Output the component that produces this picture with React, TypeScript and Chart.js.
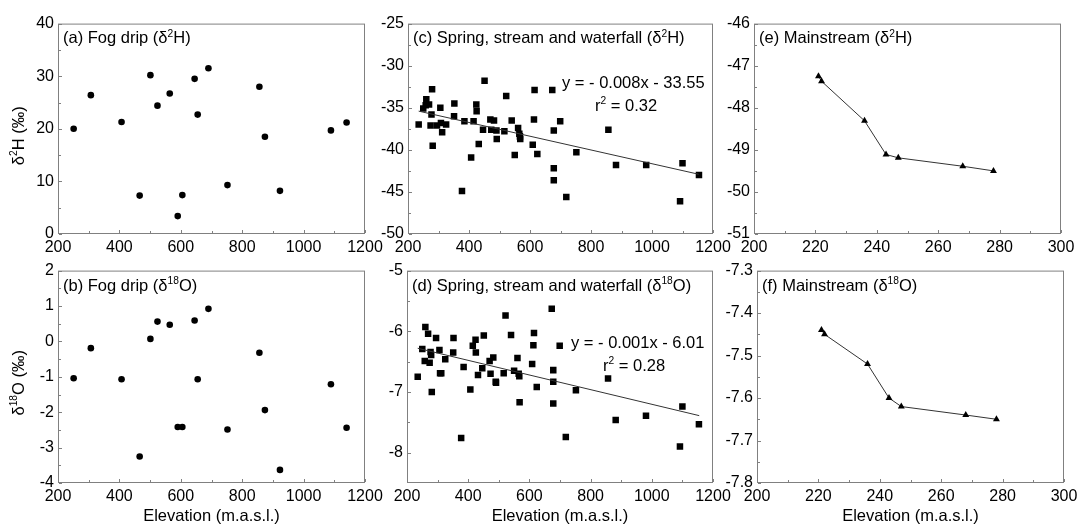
import React, { useEffect, useRef } from "react";
import { Chart, registerables } from "chart.js";

Chart.register(...registerables);

const FONT = '"Liberation Sans", Arial, Helvetica, sans-serif';
const TICK_SIZE = 16;
const TEXT_SIZE = 16.5;
const FRAME = "#808080";
const INK = "#000000";

// ---------------- data ----------------
const fogElevation = [251, 307, 407, 466, 501, 524, 564, 590, 605, 645, 655, 690, 752, 856, 874, 923, 1089, 1140];
const fogD2H = [20.0, 26.4, 21.3, 7.3, 30.2, 24.4, 26.7, 3.4, 7.4, 29.5, 22.7, 31.5, 9.3, 28.0, 18.5, 8.2, 19.7, 21.2];
const fogD18O = [-1.04, -0.19, -1.07, -3.25, 0.07, 0.56, 0.47, -2.42, -2.42, 0.59, -1.07, 0.92, -2.49, -0.32, -1.94, -3.63, -1.21, -2.44];

const springElevation = [
  235, 250, 258, 260, 269, 274, 277, 279, 281, 295, 306, 308, 312, 325, 351, 352, 377, 385, 407, 415,
  424, 425, 432, 446, 451, 470, 473, 482, 490, 491, 516, 522, 540, 550, 561, 565, 567, 568, 609, 613,
  615, 624, 673, 678, 678, 678, 699, 719, 752, 857, 882, 981, 1092, 1100, 1154,
];
const springD2H = [
  -37.0, -35.1, -34.7, -34.0, -34.6, -37.1, -35.8, -32.8, -39.5, -37.1, -35.0, -36.8, -37.9, -37.0, -36.0, -34.5, -44.9, -36.6, -40.9, -36.6,
  -34.6, -35.4, -39.3, -37.6, -31.8, -36.4, -37.6, -36.5, -37.7, -38.7, -37.8, -33.6, -36.5, -40.6, -37.4, -38.1, -38.4, -38.7, -39.4, -36.4,
  -32.9, -40.5, -32.9, -37.7, -42.2, -43.6, -36.6, -45.6, -40.3, -37.6, -41.8, -41.8, -46.1, -41.6, -43.0,
];
const springD18O = [
  -6.75, -6.29, -6.49, -5.93, -6.04, -6.52, -6.34, -6.39, -7.0, -6.11, -6.31, -6.69, -6.69, -6.46, -6.35, -6.11, -7.76, -6.59, -6.96, -6.24,
  -6.14, -6.35, -6.72, -6.61, -6.07, -6.49, -6.70, -6.43, -6.83, -6.85, -6.69, -5.74, -6.06, -6.65, -6.44, -6.70, -6.74, -7.17, -6.54, -6.23,
  -6.03, -6.92, -5.63, -6.64, -6.83, -7.19, -6.24, -7.74, -6.97, -6.78, -7.46, -7.39, -7.90, -7.24, -7.53,
];
const springD2HFitX = [235, 1153];
const springD2HFitY = [-35.4, -42.9];
const springD18OFitX = [235, 1155];
const springD18OFitY = [-6.28, -7.39];

const mainElevation = [221, 222, 236, 243, 247, 268, 278];
const mainD2H = [-47.25, -47.37, -48.31, -49.11, -49.19, -49.39, -49.5];
const mainD18O = [-7.44, -7.45, -7.52, -7.6, -7.62, -7.64, -7.65];

// ticks
const elevTicks = [200, 400, 600, 800, 1000, 1200];
const mainElevTicks = [200, 220, 240, 260, 280, 300];
const fogD2HTicks = [0, 10, 20, 30, 40];
const fogD18OTicks = [-4, -3, -2, -1, 0, 1, 2];
const springD2HTicks = [-50, -45, -40, -35, -30, -25];
const springD18OTicks = [-8, -7, -6, -5];
const springD18ORange = [-8.5, -5];
const mainD2HTicks = [-51, -50, -49, -48, -47, -46];
const mainD18OTicks = [-7.8, -7.7, -7.6, -7.5, -7.4, -7.3];

// ---------------- layout ----------------
const PADL = 55;
const PADT = 12;
const PADR = 25;
const PADB = 42;

type Seg = { t: string; sup?: boolean };
type Label = {
  segs: Seg[];
  ax: "left" | "center";
  dx: number;
  ay: "top" | "bottom" | "mid";
  dy: number;
  align?: "left" | "center";
  rotate?: boolean;
  size?: number;
};

const pts = (xs: number[], ys: number[]) => xs.map((x, i) => ({ x, y: ys[i] }));

const titleSeg = (pre: string, sup: string, post: string): Seg[] => [{ t: pre }, { t: sup, sup: true }, { t: post }];

const elevTitle: Label = { segs: [{ t: "Elevation (m.a.s.l.)" }], ax: "center", dx: 0, ay: "bottom", dy: 38, align: "center" };

type PanelCfg = {
  id: string;
  box: [number, number, number, number];
  xTicks: number[];
  xRange: number[];
  yTicks: number[];
  yRange: number[];
  yFmt: (v: number) => string;
  datasets: any[];
  labels: Label[];
};

const scatterSet = (xs: number[], ys: number[], style: string, r: number) => ({
  data: pts(xs, ys),
  showLine: false,
  pointStyle: style,
  pointRadius: r,
  pointHoverRadius: r,
  pointBackgroundColor: INK,
  pointBorderWidth: 0,
  borderWidth: 0,
});

const lineSet = (xs: number[], ys: number[]) => ({
  data: pts(xs, ys),
  showLine: true,
  pointRadius: 0,
  pointHoverRadius: 0,
  borderColor: "#333333",
  borderWidth: 1,
});

const intFmt = (v: number) => String(v);
const oneFmt = (v: number) => v.toFixed(1);

const panels: PanelCfg[] = [
  {
    id: "a",
    box: [58, 22, 365, 234],
    xTicks: elevTicks,
    xRange: [elevTicks[0], elevTicks[elevTicks.length - 1]],
    yTicks: fogD2HTicks,
    yRange: [fogD2HTicks[0], fogD2HTicks[fogD2HTicks.length - 1]],
    yFmt: intFmt,
    datasets: [scatterSet(fogElevation, fogD2H, "circle", 3.3)],
    labels: [
      { segs: titleSeg("(a) Fog drip (δ", "2", "H)"), ax: "left", dx: 5, ay: "top", dy: 19.5 },
      { segs: titleSeg("δ", "2", "H (‰)"), ax: "left", dx: -34, ay: "mid", dy: 7, rotate: true, align: "center" },
    ],
  },
  {
    id: "c",
    box: [408, 22, 713, 234],
    xTicks: elevTicks,
    xRange: [elevTicks[0], elevTicks[elevTicks.length - 1]],
    yTicks: springD2HTicks,
    yRange: [springD2HTicks[0], springD2HTicks[springD2HTicks.length - 1]],
    yFmt: intFmt,
    datasets: [lineSet(springD2HFitX, springD2HFitY), scatterSet(springElevation, springD2H, "rect", 4.6)],
    labels: [
      { segs: titleSeg("(c) Spring, stream and waterfall (δ", "2", "H)"), ax: "left", dx: 5, ay: "top", dy: 19.5 },
      { segs: [{ t: "y = - 0.008x - 33.55" }], ax: "left", dx: 154, ay: "top", dy: 64 },
      { segs: titleSeg("r", "2", " = 0.32"), ax: "left", dx: 187, ay: "top", dy: 87 },
    ],
  },
  {
    id: "e",
    box: [754, 22, 1061, 234],
    xTicks: mainElevTicks,
    xRange: [mainElevTicks[0], mainElevTicks[mainElevTicks.length - 1]],
    yTicks: mainD2HTicks,
    yRange: [mainD2HTicks[0], mainD2HTicks[mainD2HTicks.length - 1]],
    yFmt: intFmt,
    datasets: [{ ...scatterSet(mainElevation, mainD2H, "triangle", 4), showLine: true, borderColor: "#333333", borderWidth: 1 }],
    labels: [{ segs: titleSeg("(e) Mainstream (δ", "2", "H)"), ax: "left", dx: 5, ay: "top", dy: 19.5 }],
  },
  {
    id: "b",
    box: [58, 269, 365, 483],
    xTicks: elevTicks,
    xRange: [elevTicks[0], elevTicks[elevTicks.length - 1]],
    yTicks: fogD18OTicks,
    yRange: [fogD18OTicks[0], fogD18OTicks[fogD18OTicks.length - 1]],
    yFmt: intFmt,
    datasets: [scatterSet(fogElevation, fogD18O, "circle", 3.3)],
    labels: [
      { segs: titleSeg("(b) Fog drip (δ", "18", "O)"), ax: "left", dx: 5, ay: "top", dy: 20 },
      { segs: titleSeg("δ", "18", "O (‰)"), ax: "left", dx: -34, ay: "mid", dy: 6, rotate: true, align: "center" },
      elevTitle,
    ],
  },
  {
    id: "d",
    box: [407, 269, 713, 483],
    xTicks: elevTicks,
    xRange: [elevTicks[0], elevTicks[elevTicks.length - 1]],
    yTicks: springD18OTicks,
    yRange: springD18ORange,
    yFmt: intFmt,
    datasets: [lineSet(springD18OFitX, springD18OFitY), scatterSet(springElevation, springD18O, "rect", 4.6)],
    labels: [
      { segs: titleSeg("(d) Spring, stream and waterfall (δ", "18", "O)"), ax: "left", dx: 5, ay: "top", dy: 20 },
      { segs: [{ t: "y = - 0.001x - 6.01" }], ax: "left", dx: 164, ay: "top", dy: 77 },
      { segs: titleSeg("r", "2", " = 0.28"), ax: "left", dx: 196, ay: "top", dy: 100 },
      elevTitle,
    ],
  },
  {
    id: "f",
    box: [757, 269, 1064, 483],
    xTicks: mainElevTicks,
    xRange: [mainElevTicks[0], mainElevTicks[mainElevTicks.length - 1]],
    yTicks: mainD18OTicks,
    yRange: [mainD18OTicks[0], mainD18OTicks[mainD18OTicks.length - 1]],
    yFmt: oneFmt,
    datasets: [{ ...scatterSet(mainElevation, mainD18O, "triangle", 4), showLine: true, borderColor: "#333333", borderWidth: 1 }],
    labels: [
      { segs: titleSeg("(f) Mainstream (δ", "18", "O)"), ax: "left", dx: 5, ay: "top", dy: 20 },
      elevTitle,
    ],
  },
];

// ---------------- drawing helpers ----------------
const fontStr = (size: number) => `${size}px ${FONT}`;

function segWidth(ctx: CanvasRenderingContext2D, segs: Seg[], size: number) {
  let w = 0;
  for (const s of segs) {
    ctx.font = fontStr(s.sup ? size * 0.62 : size);
    w += ctx.measureText(s.t).width;
  }
  return w;
}

function drawRich(ctx: CanvasRenderingContext2D, segs: Seg[], x: number, y: number, align: string, size: number) {
  const w = segWidth(ctx, segs, size);
  let cx = align === "center" ? x - w / 2 : x;
  ctx.textAlign = "left";
  ctx.textBaseline = "alphabetic";
  for (const s of segs) {
    const sz = s.sup ? size * 0.62 : size;
    ctx.font = fontStr(sz);
    ctx.fillText(s.t, cx, s.sup ? y - size * 0.4 : y);
    cx += ctx.measureText(s.t).width;
  }
}

function makePlugin(cfg: PanelCfg) {
  return {
    id: "frameTicks_" + cfg.id,
    beforeDatasetsDraw(chart: any) {
      const { ctx, chartArea: ca, scales } = chart;
      ctx.save();
      ctx.strokeStyle = FRAME;
      ctx.lineWidth = 1;
      ctx.strokeRect(ca.left + 0.5, ca.top + 0.5, ca.right - ca.left - 1, ca.bottom - ca.top - 1);
      ctx.beginPath();
      const xs = scales.x;
      const ys = scales.y;
      const tickX = (v: number, len: number) => {
        const p = Math.round(xs.getPixelForValue(v)) + 0.5;
        ctx.moveTo(p, ca.bottom - 1);
        ctx.lineTo(p, ca.bottom - 1 - len);
      };
      const tickY = (v: number, len: number) => {
        const p = Math.round(ys.getPixelForValue(v)) + 0.5;
        ctx.moveTo(ca.left + 1, p);
        ctx.lineTo(ca.left + 1 + len, p);
      };
      const xt = cfg.xTicks;
      for (let i = 0; i < xt.length; i++) {
        tickX(xt[i], 3);
        if (i < xt.length - 1) tickX((xt[i] + xt[i + 1]) / 2, 2);
      }
      const yt = cfg.yTicks;
      for (let i = 0; i < yt.length; i++) {
        tickY(yt[i], 3);
        if (i < yt.length - 1) tickY((yt[i] + yt[i + 1]) / 2, 2);
      }
      ctx.stroke();
      ctx.restore();
    },
    afterDraw(chart: any) {
      const { ctx, chartArea: ca } = chart;
      ctx.save();
      ctx.fillStyle = INK;
      for (const lb of cfg.labels) {
        const size = lb.size ?? TEXT_SIZE;
        const x = lb.ax === "left" ? ca.left + lb.dx : (ca.left + ca.right) / 2 + lb.dx;
        const y =
          lb.ay === "top" ? ca.top + lb.dy : lb.ay === "bottom" ? ca.bottom + lb.dy : (ca.top + ca.bottom) / 2 + lb.dy;
        if (lb.rotate) {
          ctx.save();
          ctx.translate(x, y);
          ctx.rotate(-Math.PI / 2);
          drawRich(ctx, lb.segs, 0, 0, lb.align ?? "left", size);
          ctx.restore();
        } else {
          drawRich(ctx, lb.segs, x, y, lb.align ?? "left", size);
        }
      }
      ctx.restore();
    },
  };
}

function buildConfig(cfg: PanelCfg): any {
  const tickFont = { family: FONT, size: TICK_SIZE };
  return {
    type: "scatter",
    data: { datasets: cfg.datasets },
    options: {
      responsive: false,
      maintainAspectRatio: false,
      animation: false,
      devicePixelRatio: 1,
      events: [],
      layout: { padding: { left: 0, top: PADT, right: PADR, bottom: 0 } },
      plugins: { legend: { display: false }, tooltip: { enabled: false }, title: { display: false } },
      scales: {
        x: {
          type: "linear",
          position: "bottom",
          min: cfg.xRange[0],
          max: cfg.xRange[1],
          grid: { display: false, drawTicks: false },
          border: { display: false },
          ticks: {
            font: tickFont,
            color: INK,
            padding: 4,
            autoSkip: false,
            maxRotation: 0,
            minRotation: 0,
            callback: (v: number) => intFmt(v),
          },
          afterBuildTicks: (s: any) => {
            s.ticks = cfg.xTicks.map((v) => ({ value: v }));
          },
          afterFit: (s: any) => {
            s.height = PADB;
          },
        },
        y: {
          type: "linear",
          position: "left",
          min: cfg.yRange[0],
          max: cfg.yRange[1],
          grid: { display: false, drawTicks: false },
          border: { display: false },
          ticks: {
            font: tickFont,
            color: INK,
            padding: 4,
            autoSkip: false,
            callback: (v: number) => cfg.yFmt(v),
          },
          afterBuildTicks: (s: any) => {
            s.ticks = cfg.yTicks.map((v) => ({ value: v }));
          },
          afterFit: (s: any) => {
            s.width = PADL;
          },
        },
      },
    },
    plugins: [makePlugin(cfg)],
  };
}

function Panel({ cfg }: { cfg: PanelCfg }) {
  const ref = useRef<HTMLCanvasElement | null>(null);
  const [L, T, R, B] = cfg.box;
  const w = R - L + PADL + PADR;
  const h = B - T + PADT + PADB;
  useEffect(() => {
    if (!ref.current) return;
    const chart = new Chart(ref.current, buildConfig(cfg));
    return () => chart.destroy();
  }, [cfg]);
  return (
    <canvas
      ref={ref}
      width={w}
      height={h}
      style={{ position: "absolute", left: L - PADL, top: T - PADT, width: w, height: h }}
    />
  );
}

export default function App() {
  return (
    <div
      style={{
        position: "fixed",
        left: 0,
        top: 0,
        width: 1081,
        height: 525,
        background: "#ffffff",
        overflow: "hidden",
      }}
    >
      {panels.map((p) => (
        <Panel key={p.id} cfg={p} />
      ))}
    </div>
  );
}
